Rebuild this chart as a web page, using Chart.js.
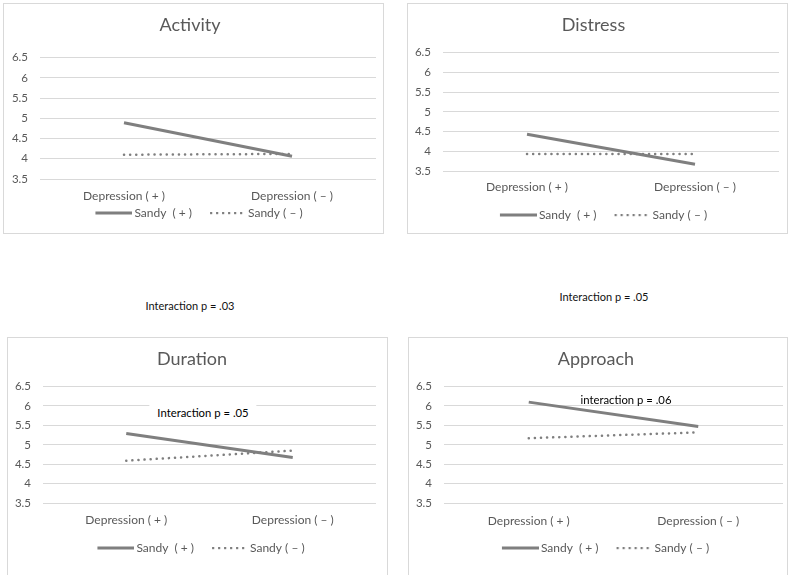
<!DOCTYPE html>
<html>
<head>
<meta charset="utf-8">
<script src="https://cdn.jsdelivr.net/npm/chart.js@4.4.1/dist/chart.umd.min.js"></script>
<style>
  body { margin: 0; background: #fff; width: 800px; height: 575px; overflow: hidden; position: relative; font-family: Lato, "Open Sans", sans-serif; }
  .panel { position: absolute; border: 1px solid #d9d9d9; background: #fff; box-sizing: border-box; }
  .panel canvas { position: absolute; left: 0; top: 0; }
  .note { position: absolute; font-family: Lato, sans-serif; font-size: 11px; color: #111; white-space: nowrap; transform: translate(-50%, -50%); }
  .inner { background: #fff; padding: 1px 8px; font-size: 11.3px; color: #000; }
</style>
</head>
<body>
<div class="panel" style="left:3px;top:3px;width:381px;height:231px"><canvas id="c1" width="379" height="237"></canvas></div>
<div class="panel" style="left:407px;top:3px;width:381px;height:231px"><canvas id="c2" width="379" height="229"></canvas></div>
<div class="panel" style="left:7px;top:337px;width:381px;height:245px"><canvas id="c3" width="379" height="227"></canvas></div>
<div class="panel" style="left:408px;top:337px;width:380px;height:245px"><canvas id="c4" width="378" height="227"></canvas></div>

<div class="note" style="left:190px;top:305px">Interaction p = .03</div>
<div class="note" style="left:604px;top:296px">Interaction p = .05</div>
<div class="note inner" style="left:203px;top:412px">Interaction p = .05</div>
<div class="note inner" style="left:626px;top:399px;background:none">interaction p = .06</div>

<script>
const categories = ['Depression ( + )', 'Depression ( \u2013 )'];
const seriesNames = ['Sandy  ( + )', 'Sandy ( \u2013 )'];
const titles = ['Activity', 'Distress', 'Duration', 'Approach'];

const activityPlus = [4.89, 4.06];
const activityMinus = [4.1, 4.12];
const distressPlus = [4.43, 3.67];
const distressMinus = [3.93, 3.93];
const durationPlus = [5.29, 4.67];
const durationMinus = [4.59, 4.85];
const approachPlus = [6.1, 5.47];
const approachMinus = [5.17, 5.32];

const yMin = 3.5;
const yMax = 6.5;
const yStep = 0.5;

const grey = '#7f7f7f';
const textGrey = '#595959';

// legend samples, a bit wider than the box so they sit close to the text
function legendSample(dotted) {
    const c = document.createElement('canvas');
    c.width = 44;
    c.height = 4;
    const ctx = c.getContext('2d');
    ctx.fillStyle = grey;
    if (dotted) {
        for (let i = 0; i < 6; i++) ctx.fillRect(8 + i * 6, 1, 2.2, 2.2);
    } else {
        ctx.fillRect(7, 0.5, 37, 3);
    }
    return c;
}
const solidSample = legendSample(false);
const dotSample = legendSample(true);

function makeChart(id, title, plus, minus, lay) {
    const dataConfig = {
        labels: categories,
        datasets: [{
            label: seriesNames[0],
            data: plus,
            borderColor: grey,
            backgroundColor: grey,
            borderWidth: 3,
            pointRadius: 0,
            pointStyle: solidSample,
            borderCapStyle: 'butt'
        }, {
            label: seriesNames[1],
            data: minus,
            borderColor: grey,
            backgroundColor: grey,
            borderWidth: 2.5,
            borderDash: [0.1, 6],
            borderCapStyle: 'round',
            pointRadius: 0,
            pointStyle: dotSample
        }]
    };
    // nudge the legend where the original has it
    const legendShift = {
        id: 'legendShift',
        afterLayout(chart) {
            const lg = chart.legend;
            lg.left += lay.dx; lg.right += lay.dx;
            lg.top += lay.dy; lg.bottom += lay.dy;
        }
    };
    const config = {
        type: 'line',
        data: dataConfig,
        plugins: [legendShift],
        options: {
            responsive: false,
            animation: false,
            layout: { padding: { left: 0, right: lay.right, top: 0, bottom: 0 } },
            plugins: {
                tooltip: { enabled: false },
                title: {
                    display: true,
                    text: title,
                    color: textGrey,
                    font: { family: 'Lato', size: 18, weight: 'normal', lineHeight: 1.2 },
                    padding: { top: lay.titleTop, bottom: lay.titleBottom }
                },
                legend: {
                    position: 'bottom',
                    labels: {
                        color: textGrey,
                        font: { family: 'Lato', size: 12 },
                        usePointStyle: true,
                        pointStyleWidth: 36,
                        padding: 14
                    }
                }
            },
            scales: {
                x: {
                    offset: true,
                    grid: { display: false, drawTicks: false },
                    border: { display: false },
                    ticks: { color: textGrey, font: { family: 'Lato', size: 12 }, padding: lay.xPad, maxRotation: 0 },
                    afterFit: s => { s.height = 26; }
                },
                y: {
                    min: yMin,
                    max: yMax,
                    grid: { color: '#d9d9d9', lineWidth: 1, drawTicks: false },
                    border: { display: false },
                    ticks: {
                        stepSize: yStep,
                        color: textGrey,
                        font: { family: 'Lato', size: 11.5 },
                        padding: 12,
                        callback: v => String(v)
                    },
                    afterFit: s => { s.width = lay.yWidth; }
                }
            }
        }
    };
    return new Chart(document.getElementById(id), config);
}

makeChart('c1', titles[0], activityPlus, activityMinus,
    { right: 7, titleTop: 10, titleBottom: 22, xPad: 10, yWidth: 36, dx: 7.5, dy: -12 });
makeChart('c2', titles[1], distressPlus, distressMinus,
    { right: 8, titleTop: 10, titleBottom: 17, xPad: 9, yWidth: 35, dx: 8.5, dy: -2 });
makeChart('c3', titles[2], durationPlus, durationMinus,
    { right: 11, titleTop: 10, titleBottom: 17, xPad: 10, yWidth: 35, dx: 7.5, dy: -1 });
makeChart('c4', titles[3], approachPlus, approachMinus,
    { right: 4, titleTop: 10, titleBottom: 17, xPad: 11, yWidth: 35, dx: 8, dy: -1 });
</script>
</body>
</html>
